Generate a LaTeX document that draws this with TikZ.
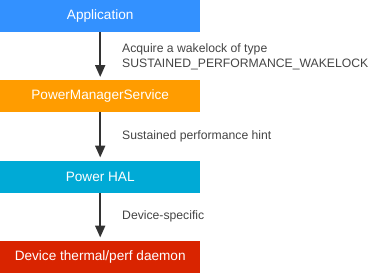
\documentclass[tikz,border=0pt]{standalone}
\usepackage{fontspec}
\setmainfont{Liberation Sans}
\usetikzlibrary{arrows.meta}
\definecolor{cblue}{HTML}{3391FF}
\definecolor{corange}{HTML}{FF9C00}
\definecolor{ccyan}{HTML}{00AAD6}
\definecolor{cred}{HTML}{D92400}
\definecolor{cline}{HTML}{333333}
\definecolor{ctext}{HTML}{444444}
\begin{document}
\begin{tikzpicture}[x=1pt,y=-1pt,
  box/.style={minimum width=200pt,minimum height=32pt,inner sep=0pt,text=white,font=\fontsize{13.6}{15}\selectfont,anchor=north west},
  lbl/.style={text=ctext,font=\fontsize{12.2}{15}\selectfont,anchor=west,align=left,inner sep=0pt},
  conn/.style={draw=cline,line width=2pt,-{Triangle[length=12pt,width=10pt]}}]
\useasboundingbox (0,0) rectangle (384,273);
\node[box,fill=cblue] (app) at (0,0) {Application};
\node[box,fill=corange] (pms) at (0,80) {PowerManagerService};
\node[box,fill=ccyan] (hal) at (0,160.5) {Power HAL};
\node[box,fill=cred] (dev) at (0,240.5) {Device thermal/perf daemon};
\draw[conn] (app.south) -- ([yshift=3pt]pms.north);
\draw[conn] (pms.south) -- ([yshift=3pt]hal.north);
\draw[conn] (hal.south) -- ([yshift=3pt]dev.north);
\node[lbl] (l1) at (122,56.5) {Acquire a wakelock of type\\SUSTAINED\_PERFORMANCE\_WAKELOCK};
\node[lbl] (l2) at (122,136.5) {Sustained performance hint};
\node[lbl] (l3) at (122,216.5) {Device-specific};
\end{tikzpicture}
\end{document}
